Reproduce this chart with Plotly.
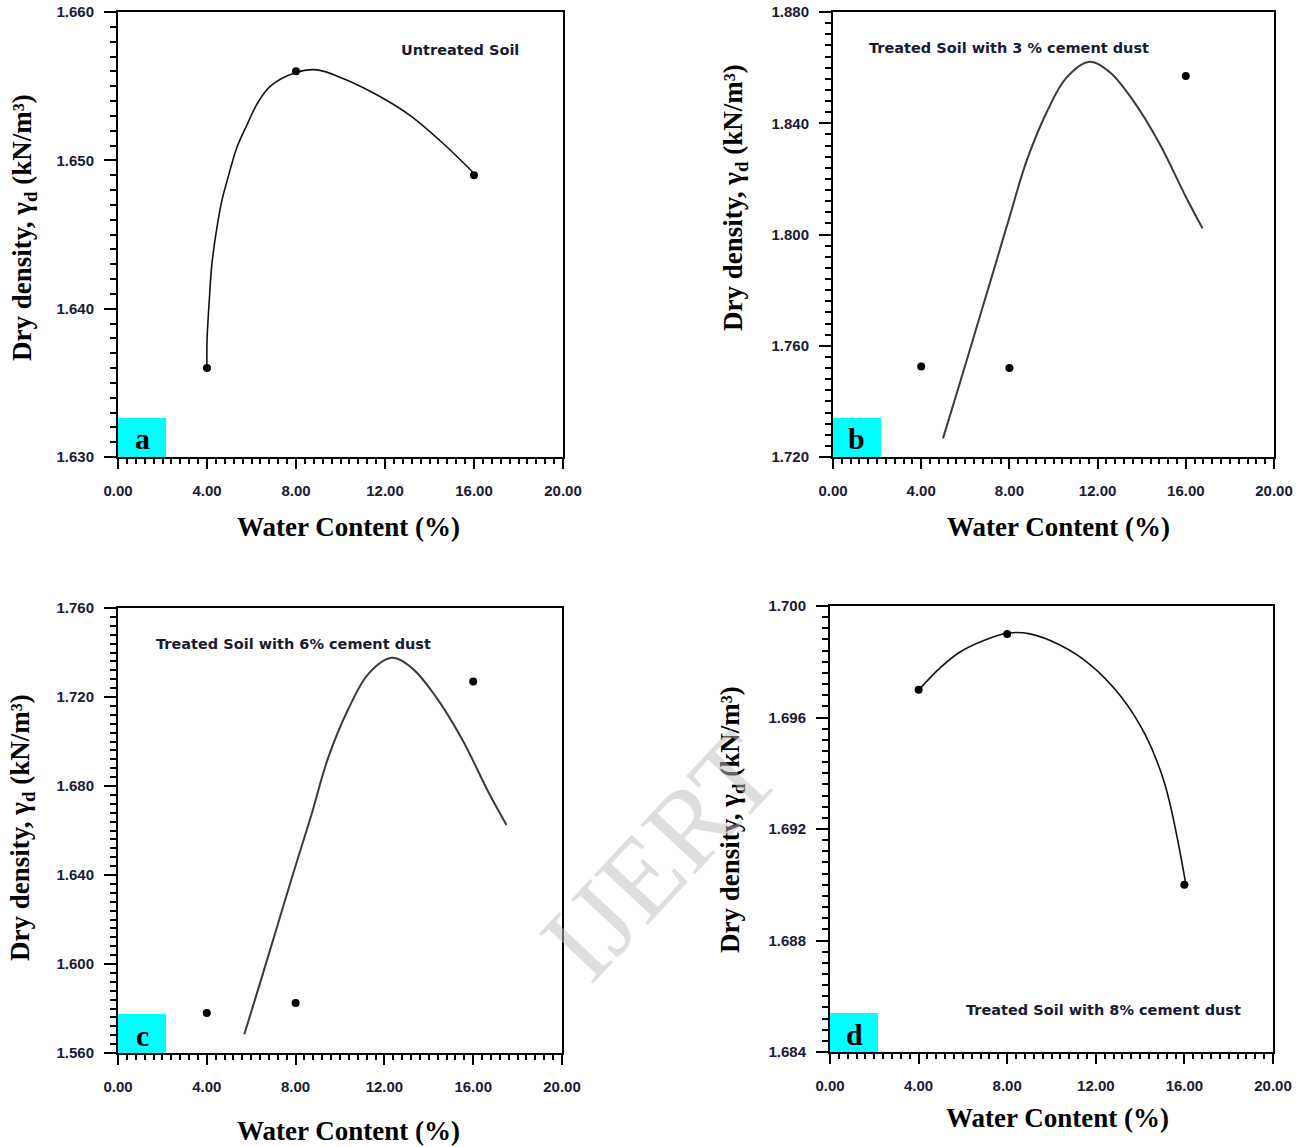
import plotly.graph_objects as go

W, H = 1307, 1147          # screenshot size

# ---- data ----
water = [4.0, 8.0, 16.0]
dens_a = [1.636, 1.656, 1.649]
dens_b = [1.7525, 1.752, 1.857]
dens_c = [1.578, 1.5825, 1.727]
dens_d = [1.697, 1.699, 1.690]

curve_a_x = [4.00, 4.00, 4.10, 4.22, 4.45, 4.67, 4.90, 5.35, 5.80, 6.25, 6.85, 7.97, 8.95, 10.14, 11.65, 13.15, 14.64, 16.08]
curve_a_y = [1.6359, 1.6378, 1.6405, 1.6430, 1.6455, 1.6473, 1.6486, 1.6509, 1.6524, 1.6538, 1.6550, 1.6559, 1.6561, 1.6555, 1.6544, 1.6530, 1.6511, 1.6490]

curve_b_x = [4.99, 5.75, 6.50, 7.25, 8.01, 8.76, 9.67, 10.57, 11.63, 12.53, 13.59, 14.80, 16.00, 16.76]
curve_b_y = [1.7267, 1.7465, 1.7663, 1.7861, 1.8064, 1.8260, 1.8436, 1.8562, 1.8621, 1.8585, 1.8484, 1.8328, 1.8136, 1.8022]

curve_c_x = [5.69, 6.45, 7.20, 7.95, 8.71, 9.46, 10.37, 11.27, 12.33, 13.23, 14.29, 15.50, 16.70, 17.50]
curve_c_y = [1.5684, 1.5931, 1.6179, 1.6426, 1.6670, 1.6925, 1.7145, 1.7303, 1.7376, 1.7331, 1.7205, 1.7010, 1.6770, 1.6625]

curve_d_x = [4.02, 4.97, 5.87, 7.00, 8.04, 9.03, 10.38, 11.74, 13.09, 14.22, 15.12, 16.07]
curve_d_y = [1.6970, 1.69778, 1.69835, 1.69878, 1.69903, 1.6990, 1.6986, 1.6979, 1.6968, 1.6954, 1.6936, 1.6900]

labels = ["Untreated Soil", "Treated Soil with 3 % cement dust",
          "Treated Soil with 6% cement dust", "Treated Soil with 8% cement dust"]
panel_letters = ["a", "b", "c", "d"]
y_ranges = [(1.630, 1.660), (1.720, 1.880), (1.560, 1.760), (1.684, 1.700)]
y_dticks = [0.010, 0.040, 0.040, 0.004]
x_range = (0.0, 20.0)
x_dtick = 4.0

# ---- layout geometry (screenshot pixels) ----
frames = [  # left, right, top, bottom
    (118, 563, 12, 457),
    (833, 1274, 12, 457),
    (118, 562, 608, 1053),
    (830, 1273, 606, 1052),
]
ytitle_pos = [(24, 228), (735, 198), (22, 828), (732, 820)]
xtitle_pos = [(348, 527), (1058, 527), (348, 1131), (1057, 1118)]
label_pos = [(460, 50), (1009, 48), (293, 644), (1103, 1010)]


def px(x):
    return x / W


def py(y):
    return 1 - y / H


points = [dens_a, dens_b, dens_c, dens_d]
curves = [(curve_a_x, curve_a_y), (curve_b_x, curve_b_y), (curve_c_x, curve_c_y), (curve_d_x, curve_d_y)]
curve_colors = ["#111111", "#3a3a3a", "#3a3a3a", "#111111"]
curve_widths = [1.6, 2.0, 2.0, 1.6]

fig = go.Figure()
annotations = []
shapes = []
serif = "Liberation Serif"
sans = "Liberation Sans"

for i in range(4):
    ax = "" if i == 0 else str(i + 1)
    xa, ya = "x" + ax, "y" + ax
    l, r, t, b = frames[i]
    lo, hi = y_ranges[i]
    eps = (hi - lo) * 1e-6
    fig.add_trace(go.Scatter(x=curves[i][0], y=curves[i][1], mode="lines",
                             line=dict(color=curve_colors[i], width=curve_widths[i], shape="spline", smoothing=1.0),
                             xaxis=xa, yaxis=ya, showlegend=False, hoverinfo="skip"))
    fig.add_trace(go.Scatter(x=water, y=points[i], mode="markers",
                             marker=dict(color="black", size=8, symbol="circle"),
                             xaxis=xa, yaxis=ya, showlegend=False))
    axis_common = dict(showline=True, linecolor="black", linewidth=2, mirror=True,
                       ticks="outside", tickcolor="black", tickwidth=1.5,
                       showgrid=False, zeroline=False, automargin=False,
                       tickfont=dict(family=sans, size=15, color="#1a1a33", weight="bold"))
    fig.layout["xaxis" + ax] = dict(axis_common, domain=[px(l), px(r)], range=[x_range[0], x_range[1] + 1e-6],
                                    dtick=x_dtick, tick0=0, tickformat=".2f", ticklen=10,
                                    minor=dict(ticks="outside", ticklen=5, dtick=0.4, tickcolor="black", tickwidth=1.5),
                                    anchor=ya, ticklabelstandoff=9)
    fig.layout["yaxis" + ax] = dict(axis_common, domain=[py(b), py(t)], range=[lo - eps, hi + eps],
                                    dtick=y_dticks[i], tick0=lo, tickformat=".3f", ticklen=12,
                                    minor=dict(ticks="outside", ticklen=6, dtick=y_dticks[i] / 10, tickcolor="black", tickwidth=1.5),
                                    anchor=xa, ticklabelstandoff=7)
    # cyan label box
    shapes.append(dict(type="rect", xref=xa + " domain", yref=ya + " domain",
                       x0=0, x1=48 / (r - l), y0=0, y1=39 / (b - t),
                       fillcolor="#00ffff", line=dict(width=0), layer="below"))
    annotations.append(dict(text="<b>" + panel_letters[i] + "</b>", xref=xa + " domain", yref=ya + " domain",
                            x=24 / (r - l), y=18 / (b - t), xanchor="center", yanchor="middle", showarrow=False,
                            font=dict(family=serif, size=30, color="black")))
    # series label
    annotations.append(dict(text="<b>" + labels[i] + "</b>", xref="paper", yref="paper",
                            x=px(label_pos[i][0]), y=py(label_pos[i][1]), xanchor="center", yanchor="middle",
                            showarrow=False, font=dict(family="DejaVu Sans", size=14.5, color="#1a1a33")))
    # axis titles
    annotations.append(dict(text="<b>Dry density, γ<sub>d</sub> (kN/m³)</b>", xref="paper", yref="paper",
                            x=px(ytitle_pos[i][0]), y=py(ytitle_pos[i][1]), xanchor="center", yanchor="middle",
                            showarrow=False, textangle=-90, font=dict(family=serif, size=27, color="black")))
    annotations.append(dict(text="<b>Water Content (%)</b>", xref="paper", yref="paper",
                            x=px(xtitle_pos[i][0]), y=py(xtitle_pos[i][1]), xanchor="center", yanchor="middle",
                            showarrow=False, font=dict(family=serif, size=27, color="black")))

# watermark
annotations.append(dict(text="IJERT", xref="paper", yref="paper", x=px(660), y=py(856),
                        xanchor="center", yanchor="middle", showarrow=False, textangle=-47,
                        font=dict(family=serif, size=112, color="rgba(190,190,190,0.5)")))

fig.update_layout(width=W, height=H, margin=dict(l=0, r=0, t=0, b=0),
                  paper_bgcolor="white", plot_bgcolor="white",
                  annotations=annotations, shapes=shapes, showlegend=False)

fig.write_html("out.html", config={"displayModeBar": False},
               post_script="document.body.style.margin='0';document.body.style.overflow='hidden';")
